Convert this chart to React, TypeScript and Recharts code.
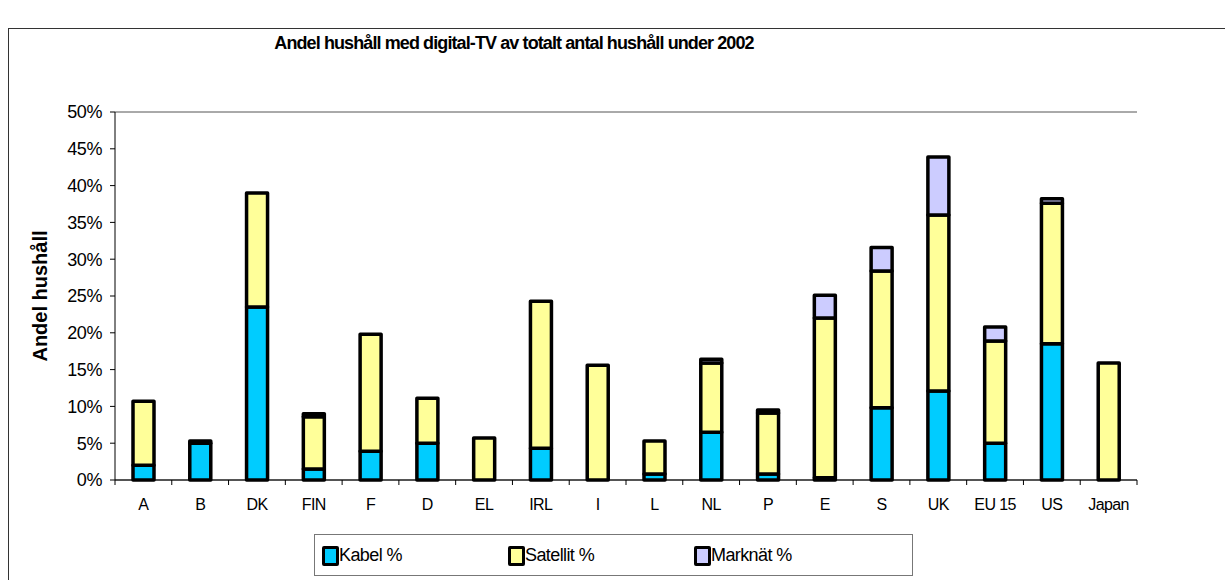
import { BarChart, Bar, XAxis, YAxis, CartesianGrid } from "recharts"

const countries = ["A", "B", "DK", "FIN", "F", "D", "EL", "IRL", "I", "L", "NL", "P", "E", "S", "UK", "EU 15", "US", "Japan"]
const kabel = [2.0, 5.0, 23.5, 1.5, 3.9, 5.0, 0, 4.3, 0, 0.8, 6.5, 0.8, 0.3, 9.8, 12.1, 5.0, 18.5, 0]
const satellit = [8.7, 0.3, 15.5, 7.1, 15.9, 6.1, 5.7, 20.0, 15.6, 4.5, 9.4, 8.3, 21.7, 18.6, 23.9, 13.9, 19.1, 15.9]
const marknat = [0, 0, 0, 0.4, 0, 0, 0, 0, 0, 0, 0.5, 0.4, 3.1, 3.2, 7.9, 1.9, 0.6, 0]
const yTicks = [0, 5, 10, 15, 20, 25, 30, 35, 40, 45, 50]

const series = [
  { key: "kabel", name: "Kabel %", color: "#00CCFF" },
  { key: "satellit", name: "Satellit %", color: "#FFFF99" },
  { key: "marknat", name: "Marknät %", color: "#CCCCFF" },
]

const data = countries.map((c, i) => ({
  country: c,
  kabel: kabel[i],
  satellit: satellit[i],
  marknat: marknat[i],
}))

const W = 1225
const H = 530
const margin = { top: 112, right: 88, left: 55, bottom: 20 }
const Y_W = 60
const plotW = W - margin.left - margin.right - Y_W
const step = plotW / countries.length
const font = "'Liberation Sans', Arial, sans-serif"

function CountryTick(props: any) {
  const { x, y, payload, index } = props
  const axisY = y - 5
  return (
    <g>
      <line x1={x - step / 2} x2={x - step / 2} y1={axisY} y2={axisY + 5} stroke="#000" />
      {index === countries.length - 1 && (
        <line x1={x + step / 2} x2={x + step / 2} y1={axisY} y2={axisY + 5} stroke="#000" />
      )}
      <text x={x} y={y} dy={25} textAnchor="middle" fontSize={16} letterSpacing={-0.6} fill="#000" fontFamily={font}>
        {payload.value}
      </text>
    </g>
  )
}

export default function App() {
  return (
    <div style={{ position: "fixed", left: 0, top: 0, width: W, height: 580, overflow: "hidden", background: "#fff", fontFamily: font }}>
      <div style={{ position: "absolute", left: 8, top: 28, width: 1300, height: 700, border: "1.5px solid #333" }} />
      <div style={{ position: "absolute", left: 0, top: 33, width: 1028, textAlign: "center", fontSize: 18, fontWeight: "bold", letterSpacing: -0.9 }}>
        Andel hushåll med digital-TV av totalt antal hushåll under 2002
      </div>
      <div style={{ position: "absolute", left: 40, top: 296, transform: "translate(-50%, -50%) rotate(-90deg)", fontSize: 20, fontWeight: "bold", whiteSpace: "nowrap" }}>
        Andel hushåll
      </div>
      <div style={{ position: "absolute", left: 0, top: 0 }}>
        <BarChart width={W} height={H} data={data} margin={margin} barSize={21}>
          <CartesianGrid vertical={false} stroke="#555" />
          <XAxis
            dataKey="country"
            tick={<CountryTick />}
            tickLine={false}
            tickSize={5}
            tickMargin={0}
            height={30}
            interval={0}
            axisLine={{ stroke: "#000" }}
          />
          <YAxis
            yAxisId="l"
            width={Y_W}
            domain={[0, 50]}
            ticks={yTicks}
            tickFormatter={(v) => `${v}%`}
            tick={{ fontSize: 18, fill: "#000", fontFamily: font, letterSpacing: -0.4 }}
            tickSize={5}
            tickMargin={8}
            axisLine={{ stroke: "#000" }}
            tickLine={{ stroke: "#000" }}
          />
          <YAxis yAxisId="r" orientation="right" width={0} domain={[0, 50]} tick={false} tickLine={false} axisLine={{ stroke: "#808080" }} />
          {series.map((s) => (
            <Bar
              key={s.key}
              yAxisId="l"
              dataKey={s.key}
              name={s.name}
              stackId="a"
              fill={s.color}
              stroke="#000"
              strokeWidth={3.5}
              strokeLinejoin="round"
              isAnimationActive={false}
            />
          ))}
        </BarChart>
      </div>
      <div style={{ position: "absolute", left: 314, top: 534, width: 599, height: 42, boxSizing: "border-box", border: "1.5px solid #777" }}>
        {series.map((s, i) => (
          <div key={s.key} style={{ position: "absolute", left: 7 + i * 186, top: 10, display: "flex", alignItems: "center" }}>
            <div style={{ width: 11, height: 14, background: s.color, border: "3px solid #000", borderRadius: 2 }} />
            <span style={{ fontSize: 18, letterSpacing: -0.6 }}>{s.name}</span>
          </div>
        ))}
      </div>
    </div>
  )
}
